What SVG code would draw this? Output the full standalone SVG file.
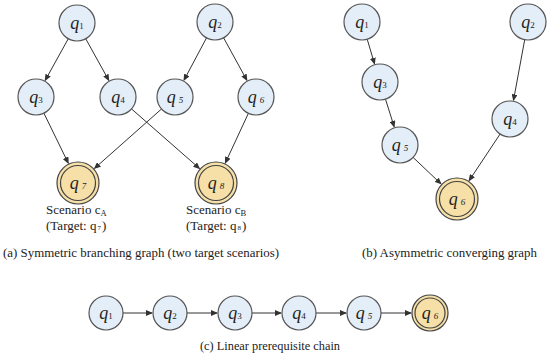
<svg xmlns="http://www.w3.org/2000/svg" width="550" height="358" viewBox="0 0 550 358">
<defs>
<marker id="ah" markerWidth="7" markerHeight="6" refX="6" refY="3" orient="auto" markerUnits="userSpaceOnUse">
<path d="M0,0 L7,3 L0,6 z" fill="#333"/>
</marker>
</defs>
<rect width="550" height="358" fill="#fff"/>
<g id="connectors" stroke="#333" stroke-width="1" fill="none" marker-end="url(#ah)">
<line x1="68.3" y1="38.7" x2="45.2" y2="80.4"/>
<line x1="85.7" y1="38.7" x2="108.8" y2="80.4"/>
<line x1="206.5" y1="37.9" x2="184" y2="80.2"/>
<line x1="223.6" y1="37.8" x2="246.9" y2="80.3"/>
<line x1="43.9" y1="113.2" x2="68.3" y2="163.2"/>
<line x1="161.5" y1="109" x2="94.5" y2="168.4"/>
<line x1="131.5" y1="108.9" x2="199.5" y2="168.5"/>
<line x1="248.4" y1="113.3" x2="225.3" y2="163"/>
<line x1="367.2" y1="39.2" x2="374.5" y2="63.8"/>
<line x1="385.5" y1="99.2" x2="394.2" y2="126.8"/>
<line x1="413.1" y1="157.4" x2="441" y2="183.9"/>
<line x1="524.7" y1="39.7" x2="513.5" y2="100.3"/>
<line x1="500.1" y1="134" x2="469.1" y2="180.7"/>
<line x1="123" y1="313" x2="152" y2="313"/>
<line x1="187" y1="313" x2="217" y2="313"/>
<line x1="252" y1="313" x2="281" y2="313"/>
<line x1="316" y1="313" x2="346" y2="313"/>
<line x1="381" y1="313" x2="411" y2="313"/>
</g>
<g id="plain" fill="#e4eef8" stroke="#555" stroke-width="1.2">
<circle cx="77" cy="23" r="18"/>
<circle cx="215" cy="22" r="18"/>
<circle cx="36" cy="97" r="18"/>
<circle cx="118" cy="97" r="18"/>
<circle cx="175" cy="97" r="18"/>
<circle cx="256" cy="97" r="18"/>
<circle cx="362" cy="22" r="18"/>
<circle cx="528" cy="22" r="18"/>
<circle cx="380" cy="82" r="18"/>
<circle cx="510" cy="119" r="18"/>
<circle cx="400" cy="145" r="18"/>
<circle cx="106" cy="313" r="17"/>
<circle cx="170" cy="313" r="17"/>
<circle cx="235" cy="313" r="17"/>
<circle cx="299" cy="313" r="17"/>
<circle cx="364" cy="313" r="17"/>
</g>
<g id="targets" fill="#f6e0a8" stroke="#444" stroke-width="1.2">
<circle cx="78" cy="183" r="21"/><circle cx="78" cy="183" r="17.5"/>
<circle cx="216" cy="183" r="21"/><circle cx="216" cy="183" r="17.5"/>
<circle cx="457" cy="199" r="21"/><circle cx="457" cy="199" r="17.5"/>
<circle cx="430" cy="313" r="18"/><circle cx="430" cy="313" r="15"/>
</g>
<g id="node-labels" font-family="Liberation Serif, serif" font-style="italic" font-size="18" fill="#222" text-anchor="middle">
<text x="77" y="29">q<tspan font-size="9" font-style="normal">1</tspan></text>
<text x="215" y="28">q<tspan font-size="9" font-style="normal">2</tspan></text>
<text x="36" y="103">q<tspan font-size="9" font-style="normal">3</tspan></text>
<text x="118" y="103">q<tspan font-size="9" font-style="normal">4</tspan></text>
<text x="175" y="103">q<tspan font-size="9" dx="3">5</tspan></text>
<text x="256" y="103">q<tspan font-size="9" dx="3">6</tspan></text>
<text x="78" y="189">q<tspan font-size="9" dx="3">7</tspan></text>
<text x="216" y="189">q<tspan font-size="9" dx="3">8</tspan></text>
<text x="362" y="28">q<tspan font-size="9" font-style="normal">1</tspan></text>
<text x="528" y="28">q<tspan font-size="9" font-style="normal">2</tspan></text>
<text x="380" y="88">q<tspan font-size="9" font-style="normal">3</tspan></text>
<text x="510" y="125">q<tspan font-size="9" font-style="normal">4</tspan></text>
<text x="400" y="151">q<tspan font-size="9" dx="3">5</tspan></text>
<text x="457" y="205">q<tspan font-size="9" dx="3">6</tspan></text>
<text x="106" y="319">q<tspan font-size="9" font-style="normal">1</tspan></text>
<text x="170" y="319">q<tspan font-size="9" font-style="normal">2</tspan></text>
<text x="235" y="319">q<tspan font-size="9" font-style="normal">3</tspan></text>
<text x="299" y="319">q<tspan font-size="9" font-style="normal">4</tspan></text>
<text x="364" y="319">q<tspan font-size="9" dx="3">5</tspan></text>
<text x="430" y="319">q<tspan font-size="9" dx="3">6</tspan></text>
</g>
<g id="captions" font-family="Liberation Serif, serif" fill="#222">
<text x="46" y="214" font-size="13">Scenario c<tspan font-size="8.5" dy="2">A</tspan></text>
<text x="46" y="230" font-size="13">(Target: q<tspan font-size="7" dx="1">7</tspan><tspan dx="1">)</tspan></text>
<text x="186" y="214" font-size="13">Scenario c<tspan font-size="8.5" dy="2">B</tspan></text>
<text x="186" y="230" font-size="13">(Target: q<tspan font-size="7" dx="1">8</tspan><tspan dx="1">)</tspan></text>
<text x="3" y="257" font-size="12.5" textLength="276" lengthAdjust="spacingAndGlyphs">(a) Symmetric branching graph (two target scenarios)</text>
<text x="362" y="257" font-size="12.5" textLength="175" lengthAdjust="spacingAndGlyphs">(b) Asymmetric converging graph</text>
<text x="200" y="350" font-size="12.5" textLength="140" lengthAdjust="spacingAndGlyphs">(c) Linear prerequisite chain</text>
</g>
</svg>
